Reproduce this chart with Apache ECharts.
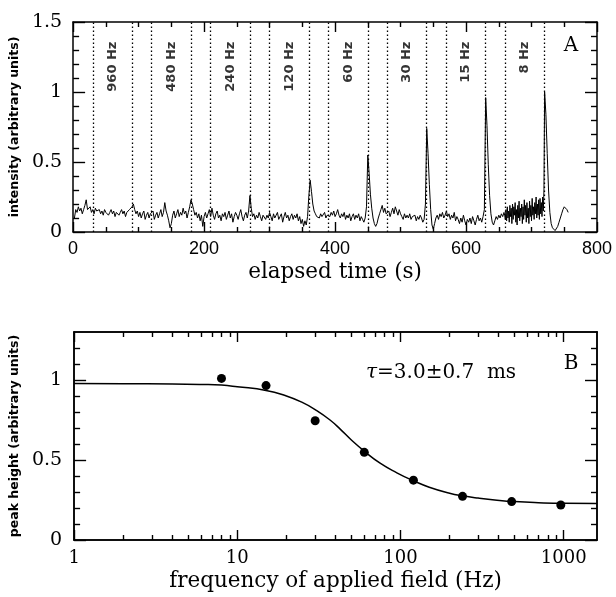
<!DOCTYPE html>
<html><head><meta charset="utf-8">
<script src="https://cdn.jsdelivr.net/npm/echarts@6/dist/echarts.min.js"></script>
<style>html,body{margin:0;padding:0;background:#fff}#c{width:616px;height:597px}</style>
</head><body><div id="c"></div>
<script>
// ---------- Panel A data ----------
// trace part 1: t = 2 .. 658 s, every 2 s
const traceA = [
0.10,0.16,0.14,0.18,0.15, 0.17,0.13,0.16,0.19,0.23, 0.16,0.15,0.18,0.14,0.16,
0.13,0.17,0.15,0.14,0.16, 0.13,0.15,0.12,0.16,0.14, 0.15,0.12,0.14,0.16,0.13,
0.15,0.11,0.14,0.15,0.12, 0.14,0.16,0.13,0.15,0.11, 0.14,0.13,0.16,0.15,0.18,
0.20,0.16,0.13,0.15,0.11, 0.14,0.10,0.13,0.15,0.09, 0.12,0.14,0.10,0.13,0.12,
0.15,0.09,0.12,0.14,0.10, 0.13,0.16,0.11,0.14,0.21, 0.15,0.12,0.08,0.03,0.06,
0.12,0.15,0.10,0.13,0.16, 0.11,0.14,0.12,0.17,0.13, 0.15,0.10,0.14,0.18,0.23,
0.20,0.16,0.12,0.14,0.10, 0.13,0.08,0.12,0.04,0.11, 0.14,0.10,0.13,0.16,0.11,
0.17,0.12,0.09,0.13,0.15, 0.10,0.12,0.08,0.13,0.11, 0.14,0.09,0.12,0.15,0.10,
0.13,0.07,0.11,0.14,0.12, 0.09,0.13,0.16,0.11,0.08, 0.12,0.14,0.10,0.15,0.26,
0.17,0.11,0.13,0.09,0.12, 0.10,0.14,0.11,0.08,0.12, 0.13,0.09,0.12,0.10,0.14,
0.11,0.08,0.13,0.10,0.12, 0.14,0.09,0.11,0.13,0.07, 0.11,0.14,0.10,0.12,0.08,
0.11,0.13,0.09,0.12,0.10, 0.13,0.08,0.11,0.06,0.09, 0.04,0.08,0.05,0.11,0.26,
0.37,0.29,0.20,0.15,0.13, 0.11,0.12,0.10,0.13,0.11, 0.12,0.14,0.10,0.12,0.13,
0.11,0.14,0.12,0.15,0.11, 0.13,0.16,0.12,0.10,0.13, 0.11,0.14,0.09,0.12,0.10,
0.13,0.08,0.11,0.13,0.09, 0.12,0.10,0.13,0.08,0.11, 0.09,0.07,0.10,0.18,0.55,
0.42,0.27,0.17,0.10,0.06, 0.04,0.06,0.10,0.13,0.16, 0.19,0.14,0.17,0.13,0.12,
0.15,0.11,0.14,0.17,0.13, 0.18,0.15,0.12,0.16,0.13, 0.11,0.09,0.13,0.10,0.12,
0.10,0.13,0.09,0.11,0.10, 0.12,0.08,0.11,0.09,0.12, 0.10,0.07,0.09,0.20,0.74,
0.56,0.34,0.16,0.05,0.02, 0.06,0.10,0.12,0.09,0.13, 0.11,0.14,0.10,0.12,0.15,
0.11,0.13,0.09,0.12,0.10, 0.14,0.08,0.11,0.09,0.06, 0.10,0.07,0.12,0.08,0.05,
0.09,0.07,0.10,0.06,0.11, 0.08,0.05,0.09,0.12,0.08, 0.10,0.07,0.11,0.16,0.96,
0.76,0.48,0.26,0.13,0.07, 0.05,0.08,0.11,0.09,0.12, 0.10,0.13,0.11,0.14
];
// trace part 2: t = 659 .. 719 s, every 1 s (noisy stretch)
const traceB = [
0.12,0.09,0.16,0.08,0.18,0.10,0.15,0.07,0.19,0.11,
0.17,0.06,0.20,0.09,0.18,0.12,0.21,0.07,0.16,0.05,
0.19,0.10,0.22,0.08,0.17,0.11,0.20,0.06,0.18,0.09,
0.23,0.12,0.19,0.07,0.21,0.10,0.17,0.06,0.22,0.11,
0.19,0.08,0.24,0.12,0.18,0.09,0.21,0.13,0.25,0.10,
0.20,0.12,0.23,0.09,0.24,0.13,0.21,0.11,0.25,0.15,
0.30
];
// trace part 3: t = 720 .. 756 s, every 2 s
const traceC = [1.00,0.84,0.56,0.30,0.14,0.06,0.03,0.02,0.01,0.02,0.04,0.07,0.10,0.13,0.16,0.18,0.19,0.16,0.14];
const traceParts = [[2, 2, traceA], [659, 1, traceB], [720, 2, traceC]]; // [start s, step s, values]
const fieldSwitchTimes = [30,90,120,180,210,270,300,360,390,450,480,540,570,630,660,720];
const fieldLabels = ['960 Hz','480 Hz','240 Hz','120 Hz','60 Hz','30 Hz','15 Hz','8 Hz'];

// ---------- Panel B data ----------
const fieldFreq = [8,15,30,60,120,240,480,960];
const peakHeight = [1.01,0.965,0.745,0.548,0.374,0.273,0.240,0.219];
const fitFreq = [1,2,4,6,8,10,15,20,25,30,37,43,50,60,75,95,120,150,200,240,300,390,500,700,1000,1600];
const fitHeight = [0.978,0.977,0.975,0.972,0.968,0.958,0.935,0.90,0.86,0.815,0.75,0.69,0.625,0.555,0.48,0.42,0.37,0.33,0.292,0.276,0.262,0.249,0.240,0.233,0.229,0.228];
const freqMajorTicks = [1,10,100,1000];
const freqMinorTicks = [2,3,4,5,6,7,8,9,20,30,40,50,60,70,80,90,200,300,400,500,600,700,800,900];
const heightMajorTicks = [0,0.5,1];
const heightMinorTicks = [0.1,0.2,0.3,0.4,0.6,0.7,0.8,0.9,1.1,1.2];

// ---------- build ----------
const trace = [];
traceParts.forEach(([t0, dt, vals]) => vals.forEach((v, i) => trace.push([t0 + i * dt, v])));
const labelPts = fieldLabels.map((name, i) => ({
  name, value: [(fieldSwitchTimes[2*i] + fieldSwitchTimes[2*i+1]) / 2, 1.36]
}));
const fit = fitFreq.map((f, i) => [f, fitHeight[i]]);
const pts = fieldFreq.map((f, i) => [f, peakHeight[i]]);

const serif = 'DejaVu Serif';
const black = '#000';
const tickStyle = {color: black, width: 1.4};

function axisBase(extra) {
  return Object.assign({
    axisLine: {show: true, onZero: false, lineStyle: {color: black, width: 1.5}},
    splitLine: {show: false},
    axisTick: {show: true, inside: true, length: 10, lineStyle: tickStyle},
    minorTick: {show: false},
    axisLabel: {show: false},
  }, extra);
}

const option = {
  backgroundColor: '#fff',
  animation: false,
  grid: [
    {left: 73, right: 19, top: 22, height: 210},
    {left: 73, right: 19, top: 332, height: 208}
  ],
  xAxis: [
    axisBase({gridIndex: 0, type: 'value', min: 0, max: 800, interval: 200, position: 'bottom',
      axisLabel: {show: true, margin: 8, fontFamily: 'Liberation Sans', fontSize: 18, color: black},
      minorTick: {show: true, splitNumber: 4, length: 5, lineStyle: tickStyle},
      name: 'elapsed time (s)', nameLocation: 'middle', nameGap: 29,
      nameTextStyle: {fontFamily: serif, fontSize: 21.5, color: black}}),
    axisBase({gridIndex: 0, type: 'value', min: 0, max: 800, interval: 200, position: 'top',
      minorTick: {show: true, splitNumber: 4, length: 5, lineStyle: tickStyle}}),
    axisBase({gridIndex: 1, type: 'log', logBase: 10, min: 1, max: 1600, position: 'bottom',
      axisTick: {show: true, inside: true, length: 10, customValues: freqMajorTicks, lineStyle: tickStyle},
      axisLabel: {show: true, margin: 9, customValues: freqMajorTicks, formatter: v => String(v),
        fontFamily: serif, fontSize: 18, color: black},
      name: 'frequency of applied field (Hz)', nameLocation: 'middle', nameGap: 30,
      nameTextStyle: {fontFamily: serif, fontSize: 21.5, color: black}}),
    axisBase({gridIndex: 1, type: 'log', logBase: 10, min: 1, max: 1600, position: 'bottom',
      axisTick: {show: true, inside: true, length: 5, customValues: freqMinorTicks, lineStyle: tickStyle}}),
    axisBase({gridIndex: 1, type: 'log', logBase: 10, min: 1, max: 1600, position: 'top',
      axisTick: {show: true, inside: true, length: 10, customValues: freqMajorTicks, lineStyle: tickStyle}}),
    axisBase({gridIndex: 1, type: 'log', logBase: 10, min: 1, max: 1600, position: 'top',
      axisTick: {show: true, inside: true, length: 5, customValues: freqMinorTicks, lineStyle: tickStyle}})
  ],
  yAxis: [
    axisBase({gridIndex: 0, type: 'value', min: 0, max: 1.5, interval: 0.5, position: 'left',
      axisTick: {show: true, inside: true, length: 12, lineStyle: tickStyle},
      minorTick: {show: true, splitNumber: 5, length: 6, lineStyle: tickStyle},
      axisLabel: {show: true, margin: 11, fontFamily: serif, fontSize: 19, color: black},
      name: 'intensity (arbitrary units)', nameLocation: 'middle', nameGap: 44,
      nameTextStyle: {fontFamily: 'DejaVu Sans', fontWeight: 'bold', fontSize: 12.5, color: black}}),
    axisBase({gridIndex: 0, type: 'value', min: 0, max: 1.5, interval: 0.5, position: 'right',
      axisTick: {show: true, inside: true, length: 12, lineStyle: tickStyle},
      minorTick: {show: true, splitNumber: 5, length: 6, lineStyle: tickStyle}}),
    axisBase({gridIndex: 1, type: 'value', min: 0, max: 1.3, position: 'left',
      axisTick: {show: true, inside: true, length: 12, customValues: heightMajorTicks, lineStyle: tickStyle},
      axisLabel: {show: true, margin: 12, customValues: heightMajorTicks, fontFamily: serif, fontSize: 19, color: black},
      name: 'peak height (arbitrary units)', nameLocation: 'middle', nameGap: 44,
      nameTextStyle: {fontFamily: 'DejaVu Sans', fontWeight: 'bold', fontSize: 12.5, color: black}}),
    axisBase({gridIndex: 1, type: 'value', min: 0, max: 1.3, position: 'left',
      axisTick: {show: true, inside: true, length: 6, customValues: heightMinorTicks, lineStyle: tickStyle}}),
    axisBase({gridIndex: 1, type: 'value', min: 0, max: 1.3, position: 'right',
      axisTick: {show: true, inside: true, length: 12, customValues: heightMajorTicks, lineStyle: tickStyle}}),
    axisBase({gridIndex: 1, type: 'value', min: 0, max: 1.3, position: 'right',
      axisTick: {show: true, inside: true, length: 6, customValues: heightMinorTicks, lineStyle: tickStyle}})
  ],
  series: [
    {type: 'line', xAxisIndex: 0, yAxisIndex: 0, data: trace, showSymbol: false, symbol: 'none',
      lineStyle: {color: black, width: 1}, z: 3,
      markLine: {silent: true, symbol: ['none', 'none'], label: {show: false},
        lineStyle: {color: black, width: 1.3, type: [1.5, 2.5]},
        data: fieldSwitchTimes.map(t => ({xAxis: t}))}},
    {type: 'scatter', xAxisIndex: 0, yAxisIndex: 0, data: labelPts, symbolSize: 0, silent: true,
      label: {show: true, position: 'inside', formatter: p => p.name, rotate: 90, align: 'right', verticalAlign: 'middle',
        fontFamily: 'DejaVu Sans', fontWeight: 'bold', fontSize: 13, color: black}},
    {type: 'line', xAxisIndex: 2, yAxisIndex: 2, data: fit, smooth: true, showSymbol: false, symbol: 'none',
      lineStyle: {color: black, width: 1.5}},
    {type: 'scatter', xAxisIndex: 2, yAxisIndex: 2, data: pts, symbol: 'circle', symbolSize: 9,
      itemStyle: {color: black, opacity: 1}}
  ],
  graphic: [
    {type: 'text', x: 571, y: 46, style: {text: 'A', font: '20px "DejaVu Serif"', fill: black, align: 'center', verticalAlign: 'middle', textAlign: 'center', textVerticalAlign: 'middle'}},
    {type: 'text', x: 571, y: 364, style: {text: 'B', font: '20px "DejaVu Serif"', fill: black, align: 'center', verticalAlign: 'middle', textAlign: 'center', textVerticalAlign: 'middle'}},
    {type: 'text', x: 366, y: 373, style: {text: '{i|τ}=3.0±0.7  ms', font: '20px "DejaVu Serif"', fill: black,
      align: 'left', verticalAlign: 'middle', textAlign: 'left', textVerticalAlign: 'middle',
      rich: {i: {fontStyle: 'italic', fontFamily: 'DejaVu Serif', fontSize: 20}}}}
  ]
};
echarts.init(document.getElementById('c'), null, {renderer: 'canvas'}).setOption(option);
</script>
</body></html>
